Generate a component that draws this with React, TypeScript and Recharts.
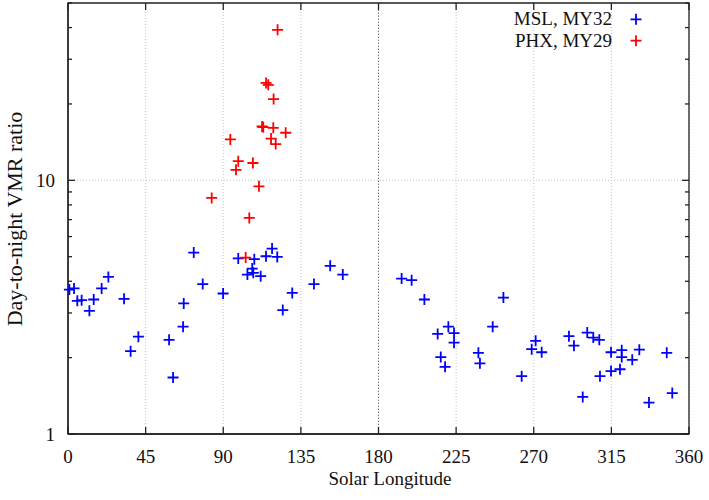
import React from 'react';
import { ScatterChart, Scatter, XAxis, YAxis, CartesianGrid, ReferenceLine, ReferenceArea, Label } from 'recharts';

// Solar longitude (deg) and day-to-night VMR ratio
const mslLs = [
  0.8, 3.5, 5.4, 7.9, 12.4, 14.9, 19.5, 23.4, 32.5, 36.3, 40.8, 58.6, 60.9, 66.7, 67.1, 72.9, 78.1,
  89.9, 98.7, 104.0, 106.8, 107.4, 108.0, 111.7, 114.8, 118.3, 121.3, 124.5, 130.0, 142.6, 152.0,
  159.3, 193.4, 199.2, 206.6, 214.3, 216.1, 218.6, 220.5, 223.8, 223.8, 237.9, 238.8, 246.2, 252.4,
  263.0, 268.8, 271.1, 274.6, 290.4, 293.3, 298.4, 301.0, 304.5, 308.0, 308.4, 314.8, 314.8, 320.0,
  321.0, 321.0, 327.1, 331.2, 336.8, 347.1, 350.3,
];
const mslRatio = [
  3.71, 3.75, 3.35, 3.37, 3.06, 3.39, 3.75, 4.16, 3.41, 2.12, 2.42, 2.35, 1.67, 2.65, 3.27, 5.19, 3.9,
  3.58, 4.92, 4.25, 4.49, 4.32, 4.89, 4.19, 5.02, 5.38, 4.99, 3.08, 3.6, 3.9, 4.6,
  4.25, 4.1, 4.04, 3.39, 2.48, 2.01, 1.84, 2.65, 2.5, 2.29, 2.09, 1.9, 2.65, 3.45,
  1.69, 2.16, 2.33, 2.1, 2.43, 2.23, 1.4, 2.51, 2.4, 2.35, 1.69, 2.1, 1.77, 1.8,
  2.14, 2.01, 1.96, 2.15, 1.33, 2.09, 1.45,
];

const phxLs = [
  83.3, 94.1, 97.4, 98.7, 103.0, 105.1, 107.2, 110.7, 112.5, 113.2, 114.8, 116.1, 117.7, 119.0, 119.2,
  120.4, 121.5, 126.2,
];
const phxRatio = [
  8.52, 14.5, 11.0, 11.9, 4.96, 7.11, 11.7, 9.47, 16.3, 16.2, 24.2, 23.8, 14.6, 16.1, 20.9,
  13.9, 39.2, 15.4,
];

const xTicks = [0, 45, 90, 135, 180, 225, 270, 315, 360];
const yTicks = [1, 2, 3, 4, 5, 6, 7, 8, 9, 10, 20, 30, 40, 50];
const yLabelled = [1, 10];

const mslData = mslLs.map((ls, i) => ({ ls, ratio: mslRatio[i] }));
const phxData = phxLs.map((ls, i) => ({ ls, ratio: phxRatio[i] }));

const W = 709;
const H = 500;
const PLOT_TOP = 3;
const PLOT_RIGHT = 689;
const FONT = '"Liberation Serif", "Times New Roman", serif';
const AXIS = '#222';

const plus = (color: string) => (props: any) => {
  const { cx, cy } = props;
  if (cx == null || cy == null) return <g />;
  return (
    <path
      d={`M${cx - 5.5},${cy}H${cx + 5.5}M${cx},${cy - 5.5}V${cy + 5.5}`}
      stroke={color}
      strokeWidth={1.8}
      fill="none"
    />
  );
};

const BottomTick = (props: any) => {
  const { x, y, payload } = props;
  return (
    <g>
      <line x1={x} y1={y} x2={x} y2={y - 7} stroke={AXIS} strokeWidth={1.3} />
      <line x1={x} y1={PLOT_TOP} x2={x} y2={PLOT_TOP + 7} stroke={AXIS} strokeWidth={1.3} />
      <text x={x} y={y + 22} dy="0.35em" textAnchor="middle" fontFamily={FONT} fontSize={19} fill="#111">
        {payload.value}
      </text>
    </g>
  );
};

const LeftTick = (props: any) => {
  const { x, y, payload } = props;
  const major = yLabelled.includes(payload.value);
  const len = major ? 7 : 4;
  return (
    <g>
      <line x1={x} y1={y} x2={x + len} y2={y} stroke={AXIS} strokeWidth={1.3} />
      <line x1={PLOT_RIGHT} y1={y} x2={PLOT_RIGHT - len} y2={y} stroke={AXIS} strokeWidth={1.3} />
      {major && (
        <text x={x - 13} y={y} dy="0.35em" textAnchor="end" fontFamily={FONT} fontSize={19} fill="#111">
          {payload.value}
        </text>
      )}
    </g>
  );
};

export default function App() {
  return (
    <div style={{ position: 'absolute', left: 0, top: 0, width: W, height: H, background: '#fff' }}>
      <ScatterChart width={W} height={H} margin={{ top: PLOT_TOP, right: W - PLOT_RIGHT, bottom: 0, left: 0 }}>
        <CartesianGrid horizontal={false} stroke="#c4c4c4" strokeDasharray="1 2" />
        <XAxis
          type="number"
          dataKey="ls"
          domain={[0, 360]}
          ticks={xTicks}
          height={66}
          tickSize={0}
          tickMargin={0}
          tickLine={false}
          axisLine={{ stroke: AXIS, strokeWidth: 1.3 }}
          tick={<BottomTick />}
          interval={0}
        >
          <Label
            content={() => (
              <text x={390} y={478} dy="0.35em" textAnchor="middle" fontFamily={FONT} fontSize={19} fill="#111">
                Solar Longitude
              </text>
            )}
          />
        </XAxis>
        <YAxis
          type="number"
          dataKey="ratio"
          scale="log"
          domain={[1, 50]}
          allowDataOverflow
          ticks={yTicks}
          width={68}
          tickSize={0}
          tickMargin={0}
          tickLine={false}
          axisLine={{ stroke: AXIS, strokeWidth: 1.3 }}
          tick={<LeftTick />}
          interval={0}
        >
          <Label
            content={() => (
              <text
                x={14}
                y={219}
                dy="0.35em"
                textAnchor="middle"
                transform="rotate(-90 14 219)"
                fontFamily={FONT}
                fontSize={22}
                fill="#111"
              >
                Day-to-night VMR ratio
              </text>
            )}
          />
        </YAxis>
        <ReferenceLine y={10} stroke="#c4c4c4" strokeDasharray="1 2" />
        <ReferenceLine x={180} stroke="#777" strokeDasharray="1 2" />
        <ReferenceArea x1={0} x2={360} y1={1} y2={50} fill="none" stroke={AXIS} strokeWidth={1.3} ifOverflow="visible" />
        <Scatter name="MSL, MY32" data={mslData} shape={plus('#0000ff')} isAnimationActive={false} />
        <Scatter name="PHX, MY29" data={phxData} shape={plus('#ff0000')} isAnimationActive={false} />
      </ScatterChart>
      <div
        style={{
          position: 'absolute',
          left: 400,
          top: 8,
          width: 212,
          textAlign: 'right',
          fontFamily: FONT,
          fontSize: 19,
          lineHeight: '22px',
          color: '#111',
        }}
      >
        <div>MSL, MY32</div>
        <div>PHX, MY29</div>
      </div>
      <svg style={{ position: 'absolute', left: 628, top: 8 }} width={16} height={44}>
        <path d="M2.5,11.3H13.5M8,5.8V16.8" stroke="#0000ff" strokeWidth={1.8} />
        <path d="M2.5,32.7H13.5M8,27.2V38.2" stroke="#ff0000" strokeWidth={1.8} />
      </svg>
    </div>
  );
}
